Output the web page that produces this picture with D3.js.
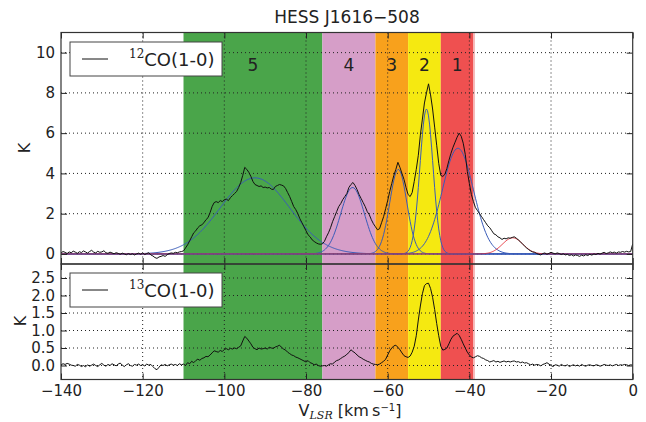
<!DOCTYPE html>
<html><head><meta charset="utf-8">
<script src="https://cdn.jsdelivr.net/npm/d3@7"></script>
<style>body{margin:0;background:#fff}svg{display:block}text{font-family:"DejaVu Sans",sans-serif;fill:#222}</style>
</head><body><svg id="c" width="646" height="422"></svg>
<script>
// ---------- data ----------
const vStart = -140, vStep = 0.5;
const co12 = [
0.05,0.12,0.08,0.02,0.10,0.06,0.14,0.09,0.03,0.11,0.07,0.15,0.10,0.04,0.12,0.18,0.09,0.05,0.13,0.08,
0.10,0.16,0.06,0.03,0.09,0.05,0.01,0.06,0.03,-0.02,0.04,0.00,-0.04,0.02,-0.03,0.01,-0.05,0.00,0.04,-0.02,
0.05,-0.03,0.02,0.06,-0.05,-0.10,-0.18,-0.22,-0.15,-0.12,-0.08,-0.12,-0.04,0.02,0.05,0.03,0.08,0.06,0.10,0.12,
0.15,0.30,0.45,0.65,0.85,1.05,1.15,1.30,1.40,1.45,1.55,1.70,1.80,2.05,2.35,2.55,2.60,2.55,2.65,2.60,
2.70,2.72,2.65,2.80,2.90,3.00,3.10,3.30,3.55,3.90,4.30,4.20,4.05,3.85,3.60,3.45,3.40,3.35,3.38,3.30,
3.32,3.28,3.30,3.22,3.20,3.35,3.40,3.45,3.42,3.38,3.25,3.05,2.85,2.60,2.35,2.20,2.00,1.75,1.55,1.35,
1.15,0.95,0.85,0.70,0.62,0.55,0.50,0.48,0.50,0.62,0.85,1.05,1.30,1.60,1.85,2.10,2.35,2.50,2.70,2.85,
3.00,3.30,3.45,3.55,3.40,3.20,2.95,2.75,2.55,2.35,2.10,1.95,1.70,1.50,1.35,1.20,1.25,1.55,1.85,2.25,
2.65,3.10,3.50,3.90,4.20,4.55,4.30,4.00,3.70,3.30,2.95,2.85,3.05,3.60,4.20,4.90,5.90,6.70,7.50,8.00,
8.45,7.90,7.20,6.30,5.40,4.50,3.90,3.85,3.95,4.25,4.65,5.00,5.30,5.55,5.80,6.00,5.85,5.50,4.95,4.10,
3.50,2.95,2.60,2.30,2.15,2.00,1.85,1.70,1.55,1.40,1.30,1.15,1.00,0.95,0.85,0.80,0.72,0.78,0.75,0.80,
0.78,0.82,0.85,0.78,0.70,0.60,0.50,0.40,0.30,0.22,0.15,0.10,0.08,0.02,-0.02,-0.05,0.02,0.05,-0.02,0.03,
0.08,0.04,0.00,0.05,0.02,-0.03,0.01,-0.05,-0.02,-0.08,-0.04,-0.10,-0.05,-0.08,-0.12,-0.06,-0.10,-0.04,-0.08,-0.02,
-0.06,0.00,-0.03,0.03,-0.01,0.04,0.08,0.02,0.05,0.10,0.06,0.09,0.04,0.10,0.08,0.12,0.09,0.13,0.10,0.12,
0.50];
const co13 = [
0.02,0.05,0.03,0.06,0.04,0.01,0.00,-0.02,0.03,0.01,-0.03,0.00,-0.04,0.02,-0.02,0.01,0.04,0.00,-0.03,0.02,
0.06,0.01,-0.02,0.03,0.00,0.05,0.02,-0.01,0.04,0.07,0.01,-0.03,0.02,0.05,0.00,-0.02,0.03,0.01,0.04,0.00,
0.02,-0.01,0.04,0.01,0.03,-0.03,-0.09,-0.12,-0.05,0.02,0.00,0.03,-0.01,0.02,0.04,0.01,0.03,0.00,0.05,0.02,
0.04,0.00,0.08,0.05,0.12,0.08,0.14,0.18,0.15,0.20,0.22,0.26,0.25,0.30,0.36,0.42,0.40,0.38,0.43,0.40,
0.46,0.48,0.45,0.49,0.47,0.50,0.48,0.52,0.56,0.70,0.83,0.78,0.70,0.62,0.52,0.48,0.45,0.50,0.47,0.48,
0.50,0.47,0.52,0.50,0.49,0.53,0.55,0.58,0.52,0.47,0.44,0.38,0.34,0.30,0.28,0.24,0.22,0.19,0.16,0.13,
0.10,0.14,0.08,0.06,0.02,0.04,0.00,-0.02,-0.01,0.00,-0.02,0.02,0.05,0.04,0.10,0.14,0.16,0.20,0.24,0.27,
0.32,0.37,0.45,0.40,0.36,0.30,0.25,0.22,0.18,0.15,0.12,0.10,0.06,0.04,0.03,0.02,0.04,0.08,0.12,0.18,
0.30,0.42,0.50,0.56,0.58,0.52,0.45,0.36,0.28,0.25,0.23,0.27,0.38,0.55,0.85,1.30,1.70,2.05,2.28,2.34,
2.35,2.20,1.95,1.60,1.20,0.85,0.55,0.44,0.46,0.50,0.62,0.75,0.84,0.88,0.92,0.86,0.75,0.62,0.50,0.38,
0.30,0.24,0.22,0.25,0.28,0.26,0.22,0.20,0.16,0.14,0.10,0.12,0.14,0.10,0.12,0.09,0.11,0.13,0.10,0.12,
0.10,0.12,0.13,0.10,0.11,0.08,0.10,0.07,0.08,0.05,0.02,0.04,0.01,0.03,0.02,-0.01,0.03,0.05,0.08,0.04,
0.00,-0.03,0.02,0.01,-0.02,0.03,0.00,-0.01,0.02,-0.03,0.00,0.02,-0.01,0.01,-0.02,0.03,0.00,-0.02,0.01,0.02,
0.00,-0.01,0.02,0.01,-0.02,0.00,0.03,0.01,0.00,0.02,-0.01,0.01,0.03,0.00,0.02,0.01,0.03,0.02,0.00,0.02,
0.01];
// Gaussian fit components (blue) and extra component (red)
const fitCenters = [-42.8, -50.5, -57.4, -68.6, -92.5];
const fitAmps    = [5.25, 7.2, 4.2, 3.3, 3.78];
const fitSigmas  = [3.8, 1.6, 2.1, 2.9, 8.5];
const redCenter = -29.4, redAmp = 0.8, redSigma = 2.5;
// velocity bands
const bandEdges = [-110, -76, -63, -55, -47, -39];
const bandLabels = ["5", "4", "3", "2", "1"];
const bandColors = ["#4aa54a", "#d69ec8", "#f8a11c", "#f5e911", "#ef5050"];
const xTicks = [-140, -120, -100, -80, -60, -40, -20, 0];
const yTopTicks = [0, 2, 4, 6, 8, 10];
const yBotTicks = [0, 0.5, 1, 1.5, 2, 2.5];

// ---------- layout ----------
const L = 61, R = 632.7, T1 = 32.5, M = 264, B = 379.5;
const svg = d3.select("#c");
const x = d3.scaleLinear().domain([-140, 0]).range([L, R]);
const yT = d3.scaleLinear().domain([-0.5, 11]).range([M, T1]);
const yB = d3.scaleLinear().domain([-0.4, 2.9]).range([B, M]);

const defs = svg.append("defs");
defs.append("clipPath").attr("id","cT").append("rect").attr("x",L).attr("y",T1).attr("width",R-L).attr("height",M-T1);
defs.append("clipPath").attr("id","cB").append("rect").attr("x",L).attr("y",M).attr("width",R-L).attr("height",B-M);

const bands = d3.range(bandLabels.length).map(i => ({a: bandEdges[i], b: bandEdges[i+1], c: bandColors[i], l: bandLabels[i]}));

function panel(y, top, bottom, clipId, yTicks, fmt, drawFits, spec) {
  const g = svg.append("g");
  g.selectAll("rect.band").data(bands).join("rect")
    .attr("x", d => x(d.a)).attr("width", d => x(d.b) - x(d.a))
    .attr("y", top).attr("height", bottom - top).attr("fill", d => d.c);
  // thin light edge at the right of the last band
  g.append("rect").attr("x", x(bandEdges[bandEdges.length - 1])).attr("width", 1.5)
    .attr("y", top).attr("height", bottom - top).attr("fill", "#f6b8b8");
  // grid
  g.selectAll("line.gx").data(xTicks.slice(1, -1)).join("line")
    .attr("x1", d => x(d)).attr("x2", d => x(d)).attr("y1", top).attr("y2", bottom)
    .attr("stroke", "#222").attr("stroke-width", 1).attr("stroke-dasharray", "1,3");
  g.selectAll("line.gy").data(yTicks).join("line")
    .attr("y1", d => y(d)).attr("y2", d => y(d)).attr("x1", L).attr("x2", R)
    .attr("stroke", "#222").attr("stroke-width", 1).attr("stroke-dasharray", "1,3");
  const cg = g.append("g").attr("clip-path", `url(#${clipId})`);
  const line = d3.line().x((d, i) => x(vStart + i * vStep)).y(d => y(d));
  if (drawFits) {
    const vs = d3.range(-140, 0.001, 0.25);
    const gl = d3.line().x(d => x(d[0])).y(d => y(d[1]));
    fitCenters.forEach((c, k) => {
      cg.append("path").datum(vs.map(v => [v, fitAmps[k] * Math.exp(-((v - c) ** 2) / (2 * fitSigmas[k] ** 2))]))
        .attr("d", gl).attr("fill", "none").attr("stroke", "#3a5cb8").attr("stroke-width", 1);
    });
    cg.append("path").datum(vs.map(v => [v, redAmp * Math.exp(-((v - redCenter) ** 2) / (2 * redSigma ** 2))]))
      .attr("d", gl).attr("fill", "none").attr("stroke", "#e3262e").attr("stroke-width", 1).attr("stroke-opacity", 0.8);
  }
  cg.append("path").datum(spec).attr("d", line).attr("fill", "none").attr("stroke", "#111").attr("stroke-width", 1);
  // axes
  const ax = (gen, tr) => g.append("g").attr("transform", tr).call(gen)
    .call(s => s.select(".domain").remove())
    .call(s => s.selectAll("line").attr("stroke", "#222"))
    .call(s => s.selectAll("text").attr("fill", "#222").style("font-family", "DejaVu Sans").style("font-size", "15px"));
  ax(d3.axisLeft(y).tickValues(yTicks).tickFormat(fmt).tickSizeInner(-6).tickSizeOuter(0).tickPadding(6), `translate(${L},0)`);
  ax(d3.axisRight(y).tickValues(yTicks).tickFormat("").tickSizeInner(-6).tickSizeOuter(0), `translate(${R},0)`);
  ax(d3.axisTop(x).tickValues(xTicks).tickFormat("").tickSizeInner(-6).tickSizeOuter(0), `translate(0,${top})`);
  return {g, ax};
}

const pT = panel(yT, T1, M, "cT", yTopTicks, d3.format("d"), true, co12);
pT.ax(d3.axisBottom(x).tickValues(xTicks).tickFormat("").tickSizeInner(-6).tickSizeOuter(0), `translate(0,${M})`);
const pB = panel(yB, M, B, "cB", yBotTicks, d3.format(".1f"), false, co13);
pB.ax(d3.axisBottom(x).tickValues(xTicks).tickFormat(d3.format("d")).tickSizeInner(-6).tickSizeOuter(0).tickPadding(6), `translate(0,${B})`);

// frames
[[T1, M], [M, B]].forEach(([a, b]) => svg.append("rect").attr("x", L).attr("y", a).attr("width", R - L).attr("height", b - a)
  .attr("fill", "none").attr("stroke", "#333").attr("stroke-width", 1.2));

// band labels
svg.selectAll("text.bl").data(bands).join("text")
  .attr("x", d => x((d.a + d.b) / 2)).attr("y", 71).attr("text-anchor", "middle")
  .style("font-size", "17px").text(d => d.l);

// legends
function legend(y0, iso) {
  const g = svg.append("g");
  g.append("rect").attr("x", 70).attr("y", y0).attr("width", 152).attr("height", 34)
    .attr("fill", "#fff").attr("stroke", "#444").attr("stroke-width", 1);
  g.append("line").attr("x1", 82).attr("x2", 108).attr("y1", y0 + 17).attr("y2", y0 + 17).attr("stroke", "#111").attr("stroke-width", 1);
  const t = g.append("text").attr("x", 129).attr("y", y0 + 24).style("font-size", "18px");
  t.append("tspan").style("font-family", "DejaVu Serif").style("font-size", "12px").attr("dy", -8).text(iso);
  t.append("tspan").attr("dy", 8).text("CO(1-0)");
}
legend(42, "12");
legend(273, "13");

// title
svg.append("text").attr("x", 347).attr("y", 23).attr("text-anchor", "middle").style("font-size", "17px").text("HESS J1616\u2212508");

// y labels
svg.append("text").attr("transform", "translate(30,148) rotate(-90)").attr("text-anchor", "middle").style("font-size", "16px").text("K");
svg.append("text").attr("transform", "translate(26,321) rotate(-90)").attr("text-anchor", "middle").style("font-size", "16px").text("K");

// x label
const xl = svg.append("text").attr("x", 350).attr("y", 416).attr("text-anchor", "middle").style("font-size", "16px");
xl.append("tspan").text("V");
xl.append("tspan").style("font-family", "DejaVu Serif").style("font-style", "italic").style("font-size", "11px").attr("dy", 3).text("LSR");
xl.append("tspan").attr("dy", -3).text(" [km\u2009s");
xl.append("tspan").style("font-size", "10px").attr("dy", -5).text("\u22121");
xl.append("tspan").attr("dy", 5).text("]");
</script></body></html>
